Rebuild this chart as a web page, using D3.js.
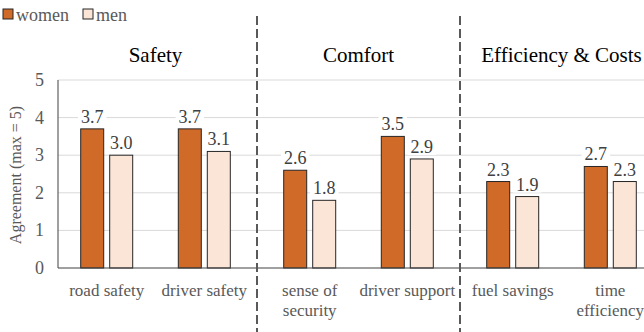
<!DOCTYPE html>
<html>
<head>
<meta charset="utf-8">
<script src="https://cdn.jsdelivr.net/npm/d3@7"></script>
</head>
<body style="margin:0;background:#fff">
<svg id="chart"></svg>
<script>
const panels = ['Safety', 'Comfort', 'Efficiency & Costs'];
const categories = ['road safety', 'driver safety', 'sense of|security', 'driver support', 'fuel savings', 'time|efficiency'];
const categoryPanel = ['Safety', 'Safety', 'Comfort', 'Comfort', 'Efficiency & Costs', 'Efficiency & Costs'];
const women = [3.7, 3.7, 2.6, 3.5, 2.3, 2.7];
const men = [3.0, 3.1, 1.8, 2.9, 1.9, 2.3];
const series = ['women', 'men'];
const yTicks = [0, 1, 2, 3, 4, 5];

const width = 644, height = 332;
const colors = { women: '#D06A29', men: '#FBE5D6' };
const font = '"Liberation Serif"';

const svg = d3.select('#chart').attr('width', width).attr('height', height);

const y = d3.scaleLinear().domain([0, 5]).range([268, 80]);
const plotLeft = 58;

// each panel gets an equal slice; two categories sit inside each slice
const xPanel = d3.scaleBand().domain(panels).range([54, 663]);
const xInner = d3.scaleBand().domain([0, 1]).range([0, xPanel.bandwidth()]).paddingOuter(0.04);
const xSeries = d3.scaleBand().domain(series).range([-26, 26]).paddingInner(6 / 29);

const rows = categories.map((c, i) => {
	const panelCats = categories.filter((d, j) => categoryPanel[j] === categoryPanel[i]);
	const cx = xPanel(categoryPanel[i]) + xInner(panelCats.indexOf(c)) + xInner.bandwidth() / 2;
	return { name: c, cx: cx, women: women[i], men: men[i] };
});

// gridlines
svg.append('g').selectAll('line').data(yTicks.filter(d => d > 0)).join('line')
	.attr('x1', plotLeft).attr('x2', width)
	.attr('y1', d => y(d)).attr('y2', d => y(d))
	.attr('stroke', '#d9d9d9').attr('stroke-width', 1);

// y tick labels
svg.append('g').selectAll('text').data(yTicks).join('text')
	.attr('x', 44).attr('y', d => y(d) + 6)
	.attr('text-anchor', 'end')
	.style('font-family', font).attr('font-size', 18).attr('fill', '#595959')
	.text(d => d);

svg.append('text')
	.attr('transform', 'translate(21,175) rotate(-90)')
	.attr('text-anchor', 'middle')
	.style('font-family', font).attr('font-size', 16).attr('fill', '#595959')
	.text('Agreement (max = 5)');

// bars
const barGroups = svg.append('g').selectAll('g').data(rows).join('g')
	.attr('transform', d => `translate(${d.cx},0)`);

barGroups.selectAll('rect').data(d => series.map(s => ({ s: s, v: d[s] }))).join('rect')
	.attr('x', d => xSeries(d.s))
	.attr('width', xSeries.bandwidth())
	.attr('y', d => y(d.v))
	.attr('height', d => y(0) - y(d.v))
	.attr('fill', d => colors[d.s])
	.attr('stroke', '#262626').attr('stroke-width', 1);

// value labels with white backing
barGroups.each(function (row) {
	const g = d3.select(this);
	series.forEach(s => {
		const t = g.append('text')
			.attr('x', xSeries(s) + xSeries.bandwidth() / 2)
			.attr('y', y(row[s]) - 6)
			.attr('text-anchor', 'middle')
			.style('font-family', font).attr('font-size', 18).attr('fill', '#404040')
			.text(row[s].toFixed(1));
		const b = t.node().getBBox();
		g.insert('rect', 'text')
			.attr('x', b.x - 3).attr('y', b.y + 2).attr('width', b.width + 6).attr('height', b.height - 4)
			.attr('fill', '#fff');
	});
});

// axes lines
svg.append('line')
	.attr('x1', plotLeft).attr('x2', plotLeft).attr('y1', y(5)).attr('y2', y(0))
	.attr('stroke', '#404040').attr('stroke-width', 1);
svg.append('line')
	.attr('x1', plotLeft).attr('x2', width).attr('y1', y(0)).attr('y2', y(0))
	.attr('stroke', '#404040').attr('stroke-width', 1);

// category labels
barGroups.append('text')
	.attr('text-anchor', 'middle')
	.style('font-family', font).attr('font-size', 17).attr('fill', '#595959')
	.selectAll('tspan').data(d => d.name.split('|')).join('tspan')
	.attr('x', 0)
	.attr('y', (d, i) => 296 + i * 20)
	.text(d => d);

// panel titles
svg.append('g').selectAll('text').data(panels).join('text')
	.attr('x', d => xPanel(d) + xPanel.bandwidth() / 2)
	.attr('y', 62)
	.attr('text-anchor', 'middle')
	.style('font-family', font).attr('font-size', 21).attr('fill', '#000')
	.text(d => d);

// dashed separators
svg.append('g').selectAll('line').data(panels.slice(1)).join('line')
	.attr('x1', d => xPanel(d)).attr('x2', d => xPanel(d))
	.attr('y1', 16).attr('y2', height)
	.attr('stroke', '#595959').attr('stroke-width', 2)
	.attr('stroke-dasharray', '9,4');

// legend
const legend = svg.append('g').selectAll('g').data(series).join('g')
	.attr('transform', (d, i) => `translate(${i === 0 ? 3 : 83},0)`);
legend.append('rect')
	.attr('x', 0).attr('y', 9).attr('width', 10).attr('height', 10)
	.attr('fill', d => colors[d]).attr('stroke', '#262626').attr('stroke-width', 1);
legend.append('text')
	.attr('x', 13).attr('y', 21)
	.style('font-family', font).attr('font-size', 18).attr('fill', '#595959')
	.text(d => d);
</script>
</body>
</html>
